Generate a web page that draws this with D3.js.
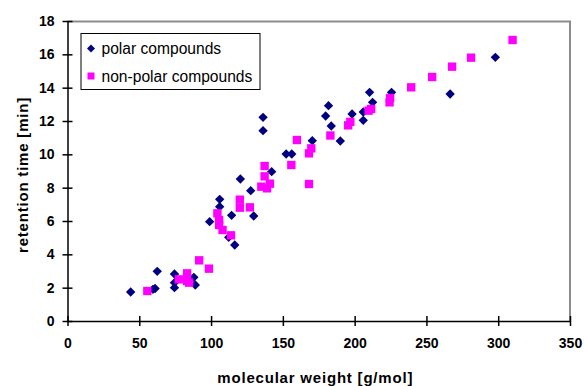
<!DOCTYPE html>
<html>
<head>
<meta charset="utf-8">
<script src="https://cdn.jsdelivr.net/npm/d3@7"></script>
<style>
  body { margin: 0; background: #fff; }
  text { font-family: Arial, "Liberation Sans", sans-serif; }
</style>
</head>
<body>
<div id="chart"></div>
<script>
// [molecular weight, retention time]
const polar = [
  [44, 1.74], [59.5, 1.9], [61, 1.95], [62.5, 2.98],
  [74.5, 2.82], [74.5, 2.3], [74.5, 2.0], [88, 2.62], [89, 2.16],
  [99, 5.96], [106, 7.3], [106, 6.86], [112.3, 5.02], [114.3, 6.34],
  [116.5, 4.56], [120.4, 8.52], [127.6, 7.82], [129.7, 6.3],
  [136.2, 12.22], [136.2, 11.42], [142.2, 8.96], [152.3, 10.02],
  [156.2, 10.02], [170.5, 10.82], [179.8, 12.3], [181.8, 12.92],
  [183.7, 11.7], [190, 10.8], [198.2, 12.42], [206, 12.54], [206, 12.04],
  [210.4, 13.72], [212.5, 13.12], [225.7, 13.72], [266.5, 13.62], [298, 15.82]
]
const nonPolar = [
  [55.6, 1.8], [77.5, 2.5], [83.3, 2.86], [83.3, 2.4], [84.7, 2.3],
  [91.7, 3.64], [98.5, 3.14], [104.4, 6.46], [105.6, 6.06], [105.6, 5.76],
  [108, 5.46], [113.9, 5.14], [120, 7.28], [120, 6.8], [127, 6.82],
  [135, 8.06], [137.3, 9.3], [137.3, 8.68], [139, 7.96], [141, 8.24],
  [155.9, 9.36], [159.8, 10.86], [168.2, 10.06], [169.8, 10.36], [168.2, 8.22],
  [183.1, 11.13], [195.5, 11.74], [197, 11.95], [209.7, 12.62], [211.5, 12.72],
  [224.3, 13.12], [224.7, 13.38], [239.4, 14.02], [254, 14.64], [267.9, 15.26],
  [281.1, 15.8], [310, 16.86]
]
const xTicks = [0, 50, 100, 150, 200, 250, 300, 350]
const yTicks = [0, 2, 4, 6, 8, 10, 12, 14, 16, 18]
const seriesNames = ['polar compounds', 'non-polar compounds']

const canvasWidth = 584
const canvasHeight = 386
const margins = {top: 21, right: 14, bottom: 65, left: 67.5}
const width = canvasWidth - margins.left - margins.right
const height = canvasHeight - margins.top - margins.bottom

const xScale = d3.scaleLinear().domain([0, 350]).range([0, width])
const yScale = d3.scaleLinear().domain([0, 18]).range([height, 0])

const svg = d3
  .select('#chart')
  .append('svg')
  .attr('width', canvasWidth)
  .attr('height', canvasHeight)
  .append('g')
  .attr('transform', `translate(${margins.left}, ${margins.top})`)

// grey frame on top and right
svg
  .append('path')
  .attr('d', `M0,0.5H${width}V${height}`)
  .attr('fill', 'none')
  .attr('stroke', '#8c8c8c')
  .attr('stroke-width', 2)

const styleAxis = g => {
  g.select('.domain').attr('stroke', '#000').attr('stroke-width', 1.5)
  g.selectAll('.tick line').attr('stroke', '#000').attr('stroke-width', 1.5)
  g.selectAll('.tick text')
    .attr('font-size', '14px')
    .attr('font-weight', 'bold')
    .attr('fill', '#000')
}

const xAxis = d3.axisBottom(xScale).tickValues(xTicks).tickSize(5).tickSizeOuter(0).tickPadding(12)
svg
  .append('g')
  .attr('transform', `translate(0, ${height})`)
  .call(xAxis)
  .call(styleAxis)
  .call(g => g.selectAll('.tick line').attr('y1', -5))

const yAxis = d3.axisLeft(yScale).tickValues(yTicks).tickSize(5).tickSizeOuter(0).tickPadding(8)
svg
  .append('g')
  .call(yAxis)
  .call(styleAxis)
  .call(g => g.selectAll('.tick line').attr('x1', 5))

svg
  .append('text')
  .attr('transform', `translate(${width / 2 - 3.5}, ${height + 62})`)
  .attr('font-size', '15px')
  .attr('font-weight', 'bold')
  .attr('letter-spacing', '0.8px')
  .style('text-anchor', 'middle')
  .text('molecular weight [g/mol]')

svg
  .append('text')
  .attr('transform', `translate(-39.5, ${height / 2 + 4}) rotate(-90)`)
  .attr('font-size', '15px')
  .attr('font-weight', 'bold')
  .attr('letter-spacing', '0.8px')
  .style('text-anchor', 'middle')
  .text('retention time [min]')

const diamond = d3.symbol().type(d3.symbolSquare).size(44)
const square = d3.symbol().type(d3.symbolSquare).size(70)

svg
  .selectAll('path.polar')
  .data(polar)
  .enter()
  .append('path')
  .attr('class', 'polar')
  .attr('d', diamond)
  .attr('transform', d => `translate(${xScale(d[0])}, ${yScale(d[1])}) rotate(45)`)
  .attr('fill', '#000080')

svg
  .selectAll('path.nonpolar')
  .data(nonPolar)
  .enter()
  .append('path')
  .attr('class', 'nonpolar')
  .attr('d', square)
  .attr('transform', d => `translate(${xScale(d[0])}, ${yScale(d[1])})`)
  .attr('fill', '#ff00ff')

// legend
const legend = svg.append('g').attr('transform', 'translate(13, 12)')
legend
  .append('rect')
  .attr('x', 0.5)
  .attr('y', 0.5)
  .attr('width', 179)
  .attr('height', 56)
  .attr('fill', '#fff')
  .attr('stroke', '#000')

legend
  .append('path')
  .attr('d', d3.symbol().type(d3.symbolSquare).size(32))
  .attr('transform', 'translate(10.5, 15.5) rotate(45)')
  .attr('fill', '#000080')
legend
  .append('path')
  .attr('d', d3.symbol().type(d3.symbolSquare).size(49))
  .attr('transform', 'translate(10.5, 43)')
  .attr('fill', '#ff00ff')

legend
  .selectAll('text.item')
  .data(seriesNames)
  .enter()
  .append('text')
  .attr('class', 'item')
  .attr('x', 21)
  .attr('y', (d, i) => 21 + i * 28)
  .attr('font-size', '15.6px')
  .text(d => d)
</script>
</body>
</html>
